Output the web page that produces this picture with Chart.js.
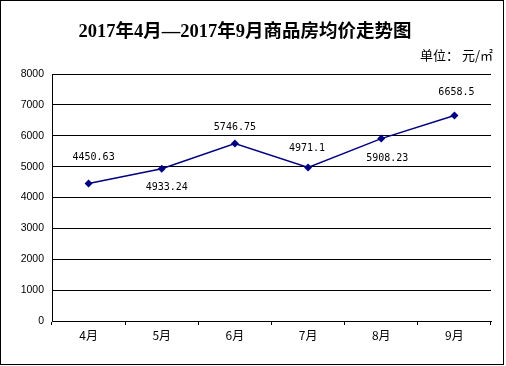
<!DOCTYPE html>
<html>
<head>
<meta charset="utf-8">
<script src="https://cdn.jsdelivr.net/npm/chart.js@4"></script>
<style>
  body { margin: 0; background: #fff; }
  #wrap { width: 506px; height: 366px; }
</style>
</head>
<body>
<div id="wrap"><canvas id="chart" width="506" height="366"></canvas></div>
<script>
// data
const months = ["4月", "5月", "6月", "7月", "8月", "9月"];
const avgPrice = [4450.63, 4933.24, 5746.75, 4971.1, 5908.23, 6658.5];
const yTicks = [0, 1000, 2000, 3000, 4000, 5000, 6000, 7000, 8000];

const titleText = "2017年4月—2017年9月商品房均价走势图";
const unitText = "单位： 元/㎡";

// where each value label sits relative to its point (dx, dy)
const labelShift = [[5, -26], [5, 19], [0, -16], [-1, -19], [6, 20], [2, -23]];

const navy = "#000080";

const framePlugin = {
  id: "frame",
  beforeDraw(chart) {
    const ctx = chart.ctx;
    ctx.save();
    ctx.fillStyle = "#fff";
    ctx.fillRect(0, 0, chart.width, chart.height);
    ctx.restore();
  },
  afterDraw(chart) {
    const ctx = chart.ctx;
    ctx.save();
    ctx.strokeStyle = "#000";
    ctx.lineWidth = 1;
    ctx.strokeRect(0.5, 0.5, 503, 364);

    // title
    ctx.fillStyle = "#000";
    ctx.font = "bold 18.5px 'Liberation Serif', 'Noto Sans CJK SC', serif";
    ctx.textAlign = "center";
    ctx.textBaseline = "middle";
    ctx.fillText(titleText, 245, 32);

    // unit
    ctx.font = "13px 'Noto Sans CJK SC', sans-serif";
    ctx.textAlign = "right";
    ctx.fillText(unitText, 493, 55);

    // value labels
    const meta = chart.getDatasetMeta(0);
    ctx.font = "10px 'DejaVu Sans Mono', monospace";
    ctx.textAlign = "center";
    meta.data.forEach((pt, i) => {
      const s = labelShift[i];
      ctx.fillText(String(avgPrice[i]), pt.x + s[0], pt.y + s[1]);
    });
    ctx.restore();
  }
};

new Chart(document.getElementById("chart"), {
  type: "line",
  data: {
    labels: months,
    datasets: [{
      data: avgPrice,
      borderColor: navy,
      backgroundColor: navy,
      borderWidth: 1.5,
      pointStyle: "rectRot",
      pointRadius: 4,
      pointBorderWidth: 0,
      tension: 0
    }]
  },
  options: {
    responsive: false,
    animation: false,
    layout: { padding: { top: 74, right: 15, left: 0, bottom: 0 } },
    plugins: {
      legend: { display: false },
      tooltip: { enabled: false },
      title: { display: false }
    },
    scales: {
      x: {
        offset: true,
        grid: { offset: true, drawOnChartArea: false, drawTicks: true, tickLength: 4, color: "#000", lineWidth: 1 },
        border: { display: true, color: "#000", width: 1 },
        ticks: { color: "#000", font: { family: "'Noto Sans CJK SC', sans-serif", size: 12 }, padding: 3, maxRotation: 0 },
        afterFit(scale) { scale.height = 45; }
      },
      y: {
        min: yTicks[0],
        max: yTicks[yTicks.length - 1],
        afterBuildTicks(scale) { scale.ticks = yTicks.map(v => ({ value: v })); },
        grid: { drawTicks: false, color: "#000", lineWidth: 1 },
        border: { display: true, color: "#000", width: 1 },
        ticks: {
          color: "#000",
          font: { family: "'Liberation Sans', Arial, sans-serif", size: 10.5 },
          padding: 8,
          callback: v => String(v)
        },
        afterFit(scale) { scale.width = 52; }
      }
    }
  },
  plugins: [framePlugin]
});
</script>
</body>
</html>
